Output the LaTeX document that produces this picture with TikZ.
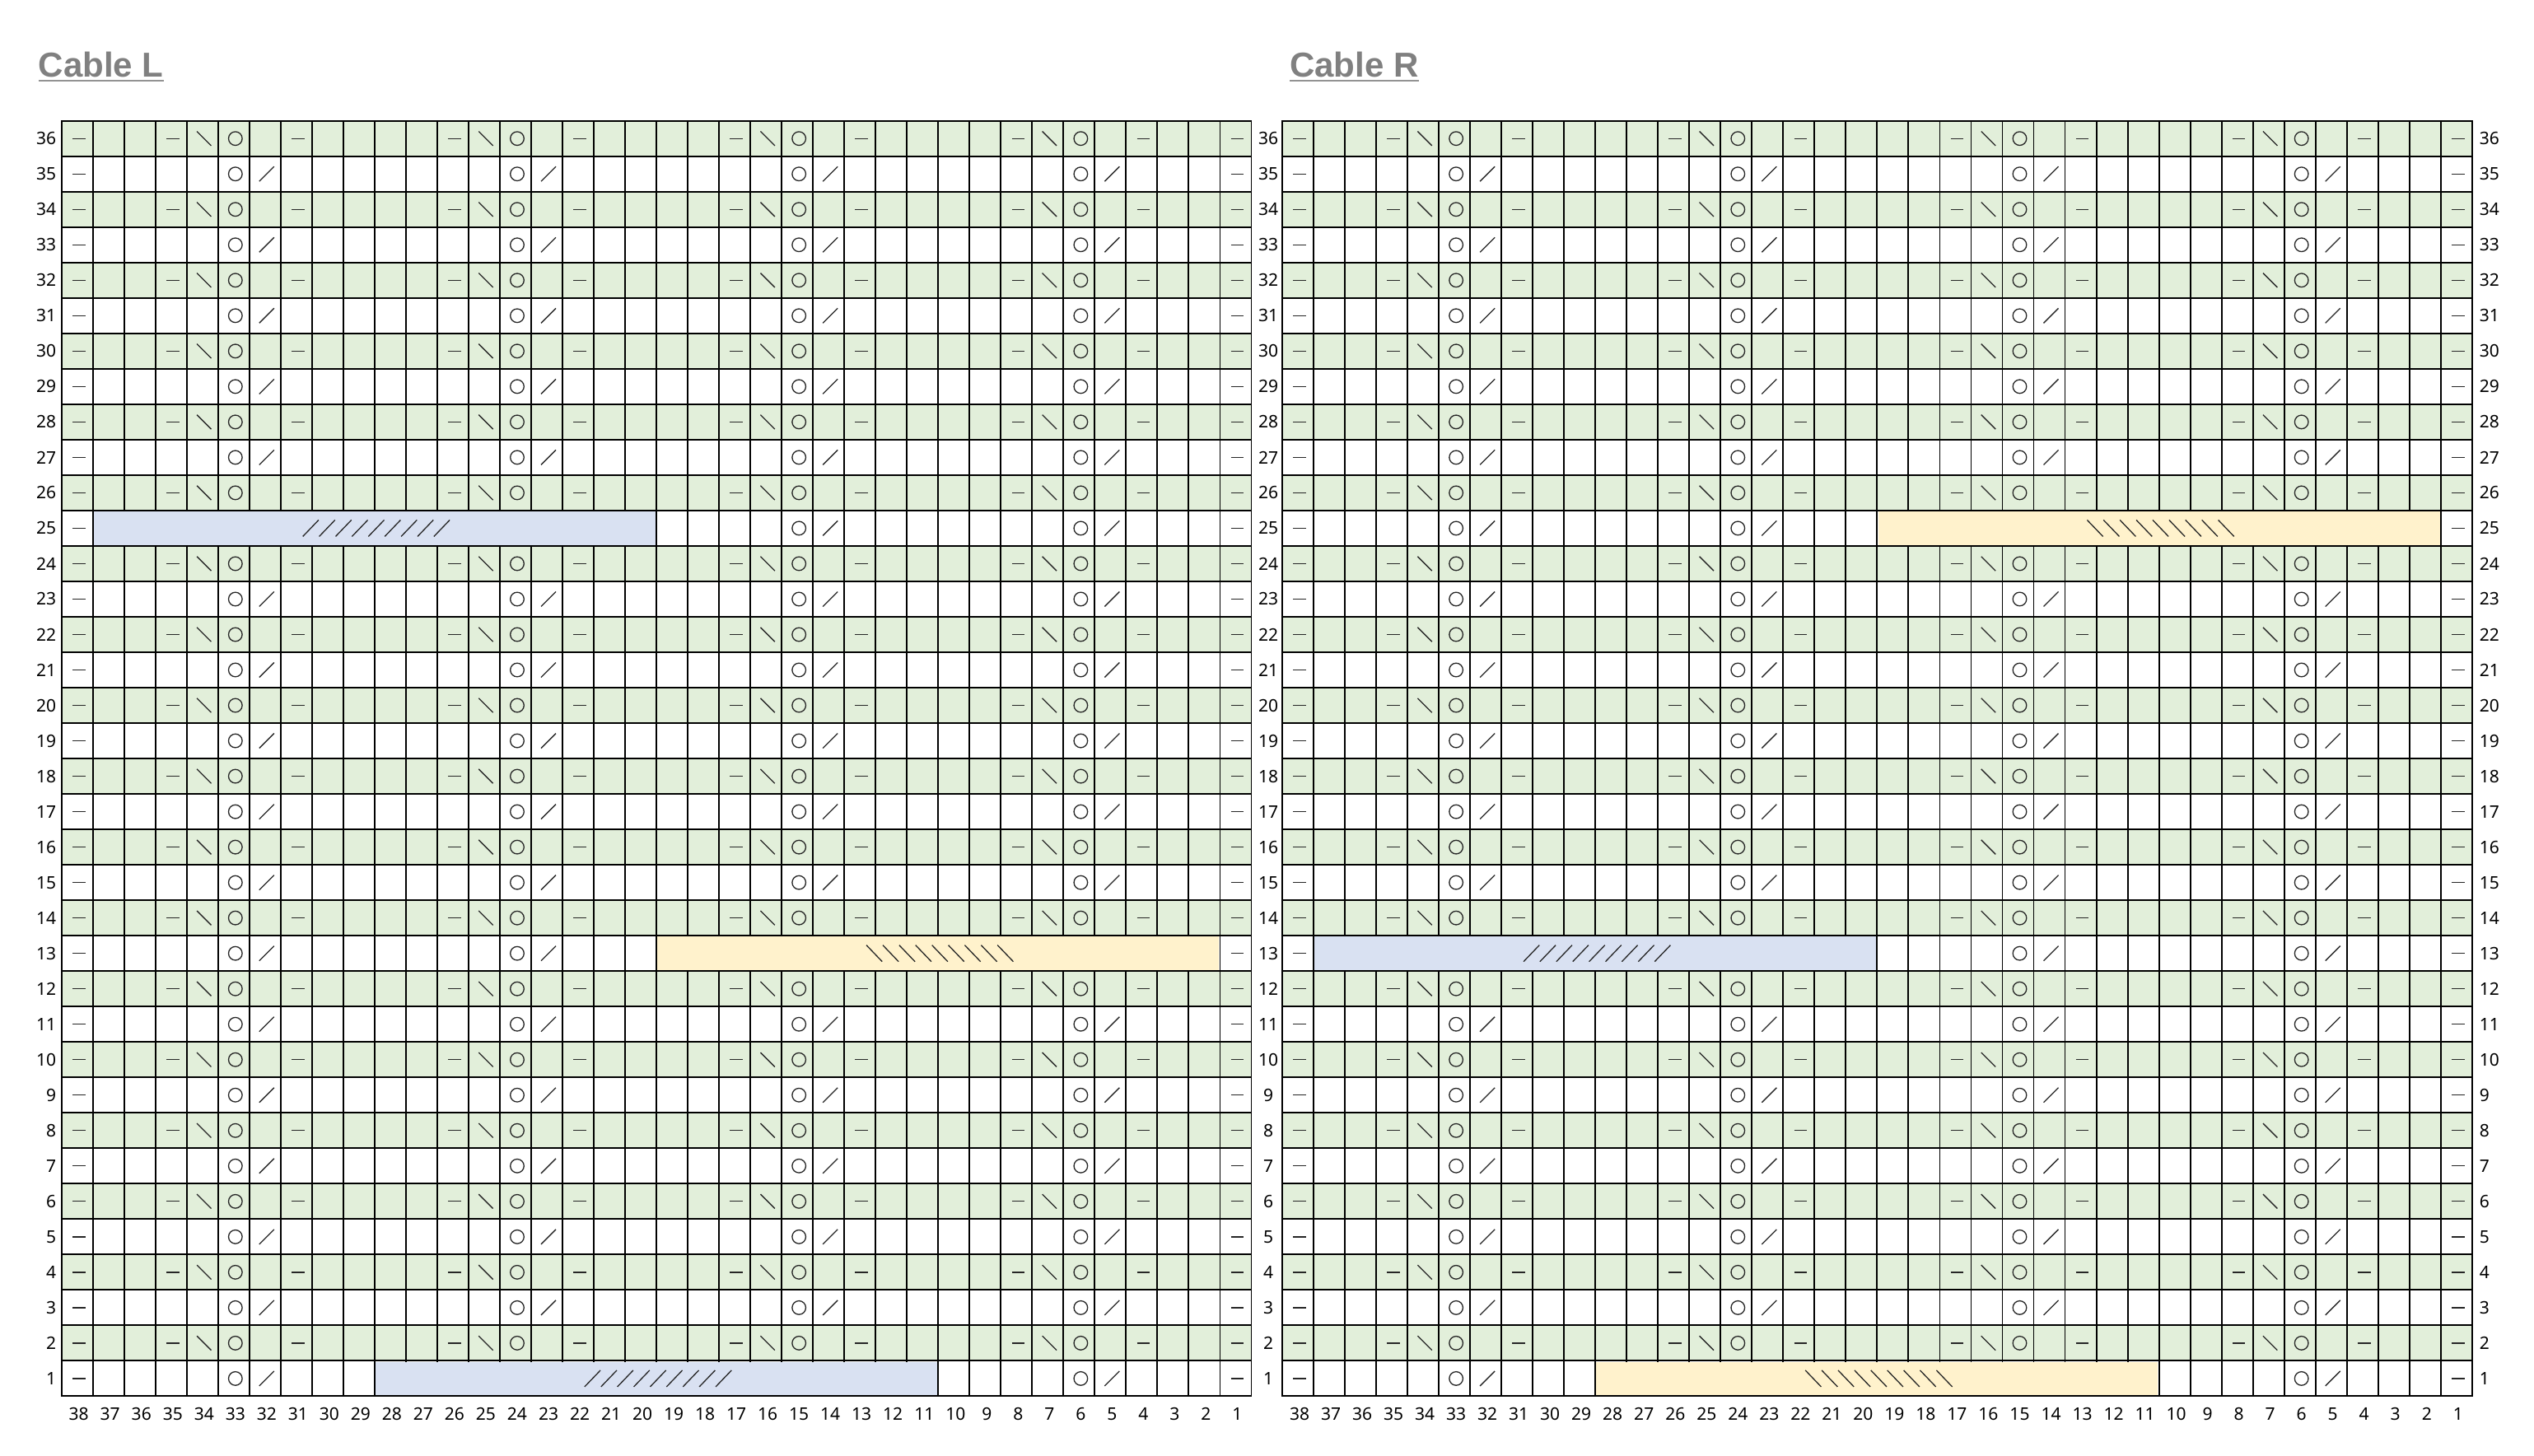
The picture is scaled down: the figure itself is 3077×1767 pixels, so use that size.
\documentclass[tikz,border=0pt]{standalone}
\usepackage{fontspec}
\setmainfont{Noto Sans}
\newfontfamily\titlefont{Liberation Sans}
\definecolor{rowgreen}{HTML}{E2EFDA}
\definecolor{bandblue}{HTML}{D9E1F2}
\definecolor{bandyellow}{HTML}{FFF2CC}
\definecolor{titlegray}{HTML}{808080}
\tikzset{
  sym/.style={line width=1.3pt, draw=black!85},
  gridline/.style={line width=1.9pt, draw=black, line cap=rect},
  lbl/.style={font=\fontsize{21}{21}\selectfont, inner sep=0pt},
  ttl/.style={font=\titlefont\bfseries\fontsize{42}{42}\selectfont, text=titlegray, inner sep=0pt, anchor=base west},
  uline/.style={draw=titlegray!85, line width=2.4pt},
  kpurl/.pic={\draw[sym] (-7.8,0) -- (7.8,0);},
  kyo/.pic={\draw[sym] (0,0) circle[radius=8.3pt];},
  kleft/.pic={\draw[sym] (-8.7,-8.7) -- (8.7,8.7);},
  kright/.pic={\draw[sym] (-9,9) -- (9,-9);},
  bleft/.pic={\draw[sym] (-9.6,-10) -- (9.6,10);},
  bright/.pic={\draw[sym] (-9.6,10) -- (9.6,-10);},
}
\def\W{38.02}
\def\H{43.02}
\def\T{146.7}

\newcommand\drawchart[1]{%
  \foreach \r in {2,4,...,36}{
    \fill[rowgreen] (#1,{\T+(36-\r)*\H}) rectangle ({#1+38*\W},{\T+(37-\r)*\H});
  }
  \foreach \r in {2,4,...,36}{
    \pgfmathsetmacro\yy{\T+(36.5-\r)*\H}
    \foreach \s in {38,35,31,26,22,17,13,8,4,1}{
      \pgfmathsetmacro\xx{#1+(38.5-\s)*\W+2}
      \pic at (\xx,\yy) {kpurl};
    }
    \foreach \s in {34,25,16,7}{
      \pgfmathsetmacro\xx{#1+(38.5-\s)*\W+2}
      \pic at (\xx,\yy) {kleft};
    }
    \foreach \s in {33,24,15,6}{
      \pgfmathsetmacro\xx{#1+(38.5-\s)*\W+2}
      \pic at (\xx,\yy) {kyo};
    }
  }
  \foreach \r in {1,3,...,35}{
    \pgfmathsetmacro\yy{\T+(36.5-\r)*\H}
    \foreach \s in {38,1}{
      \pgfmathsetmacro\xx{#1+(38.5-\s)*\W+2}
      \pic at (\xx,\yy) {kpurl};
    }
    \foreach \s in {33,24,15,6}{
      \pgfmathsetmacro\xx{#1+(38.5-\s)*\W+2}
      \pic at (\xx,\yy) {kyo};
    }
    \foreach \s in {32,23,14,5}{
      \pgfmathsetmacro\xx{#1+(38.5-\s)*\W+2}
      \pic at (\xx,\yy) {kright};
    }
  }
  \foreach \c in {0,...,38}{
    \draw[gridline] ({#1+\c*\W},\T) -- ({#1+\c*\W},{\T+36*\H});
  }
  \foreach \r in {0,...,36}{
    \draw[gridline] (#1,{\T+\r*\H}) -- ({#1+38*\W},{\T+\r*\H});
  }
  \foreach \s in {1,...,38}{
    \pgfmathsetmacro\xx{#1+(38.5-\s)*\W+2}
    \node[lbl] at (\xx,1716.7) {\s};
  }
}

\newcommand\band[6]{%
  \pgfmathsetmacro\xa{#1+(38-#3)*\W}
  \pgfmathsetmacro\xb{#1+(39-#4)*\W}
  \pgfmathsetmacro\ya{\T+(36-#2)*\H}
  \pgfmathsetmacro\yb{\ya+\H}
  \fill[#5] (\xa+1.1,\ya+1.1) rectangle (\xb-1.1,\yb-1.1);
  \pgfmathsetmacro\xc{(\xa+\xb)/2+2}
  \pgfmathsetmacro\yc{(\ya+\yb)/2}
  \foreach \i in {-4,...,4}{
    \pic at ({\xc+\i*19.9},\yc) {#6};
  }
}

\begin{document}
\begin{tikzpicture}[x=1pt,y=-1pt]
  \fill[white] (0,0) rectangle (3077,1767);
  \useasboundingbox (0,0) rectangle (3077,1767);

  % titles
  \node[ttl] (tL) at (46.7,93) {Cable L};
  \draw[uline] ([yshift=-4.7pt]tL.base west) -- ([yshift=-4.7pt]tL.base east);
  \node[ttl] (tR) at (1566,93) {Cable R};
  \draw[uline] ([yshift=-4.7pt]tR.base west) -- ([yshift=-4.7pt]tR.base east);

  % charts
  \drawchart{74.7}
  \drawchart{1557}

  % bands, Cable L
  \band{74.7}{25}{37}{20}{bandblue}{bright}
  \band{74.7}{13}{19}{2}{bandyellow}{bleft}
  \band{74.7}{1}{28}{11}{bandblue}{bright}
  % bands, Cable R
  \band{1557}{25}{19}{2}{bandyellow}{bleft}
  \band{1557}{13}{37}{20}{bandblue}{bright}
  \band{1557}{1}{28}{11}{bandyellow}{bleft}

  % row labels
  \foreach \r in {1,...,36}{
    \pgfmathsetmacro\yy{\T+(36.5-\r)*\H}
    \node[lbl, anchor=east] (rl\r) at (68.3,\yy) {\r};
    \node[lbl] (rm\r) at (1540,\yy) {\r};
    \node[lbl, anchor=west] (rr\r) at (3010.7,\yy) {\r};
  }
\end{tikzpicture}
\end{document}
